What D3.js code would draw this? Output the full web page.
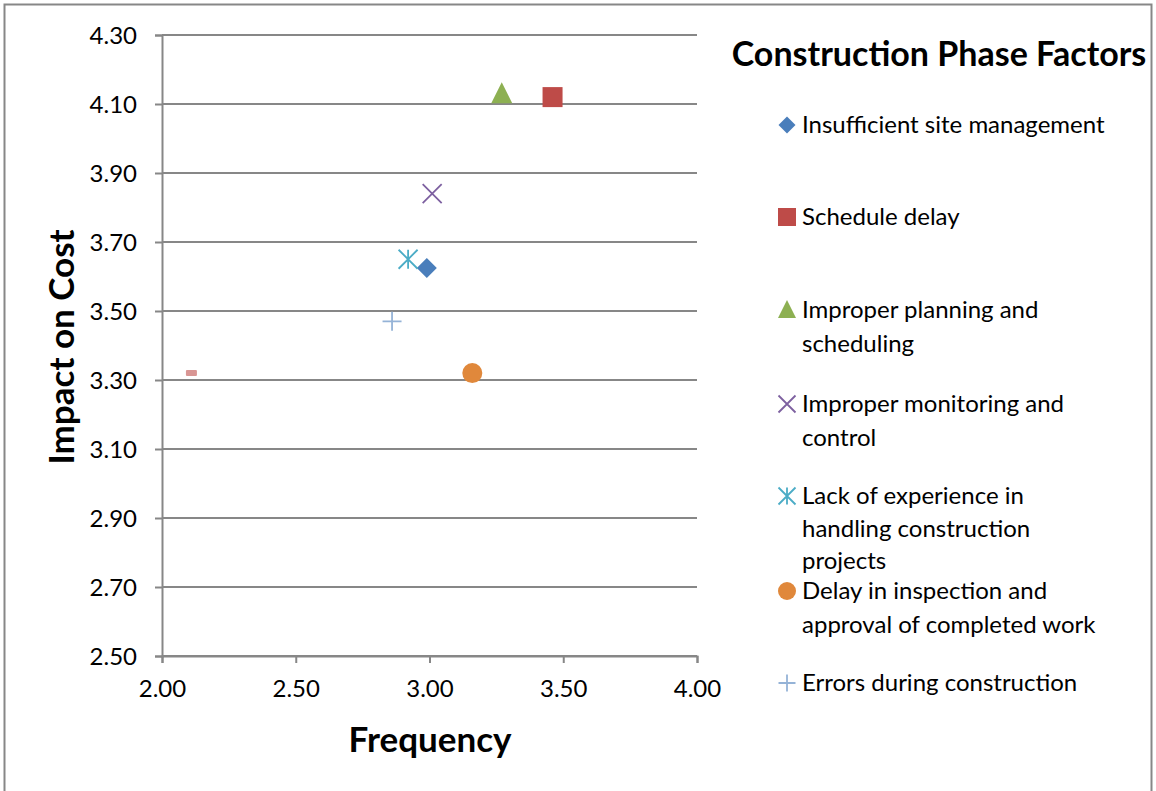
<!DOCTYPE html>
<html><head><meta charset="utf-8">
<script src="https://cdn.jsdelivr.net/npm/d3@7"></script>
<style>body{margin:0;background:#fff;}svg{display:block;}text{font-family:Lato,"Open Sans",sans-serif;}</style>
</head><body>
<svg id="c" width="1156" height="791"></svg>
<script>
const seriesNames = [
  ["Insufficient site management"],
  ["Schedule delay"],
  ["Improper planning and", "scheduling"],
  ["Improper monitoring and", "control"],
  ["Lack of experience in", "handling construction", "projects"],
  ["Delay in inspection and", "approval of completed work"],
  ["Errors during construction"],
  ["(unlabelled)"]
];
const frequency = [2.99, 3.46, 3.27, 3.01, 2.92, 3.16, 2.86, 2.11];
const impact    = [3.625, 4.12, 4.13, 3.84, 3.65, 3.32, 3.47, 3.32];
const markers   = ["diamond", "square", "triangle", "x", "star", "circle", "plus", "dash"];
const colors    = ["#4a7ebb", "#be4b48", "#8db052", "#7d60a0", "#4bacc6", "#e0883b", "#95b3d7", "#d99694"];
const xTicks = [2.00, 2.50, 3.00, 3.50, 4.00];
const yTicks = [2.50, 2.70, 2.90, 3.10, 3.30, 3.50, 3.70, 3.90, 4.10, 4.30];
const legendTitle = "Construction Phase Factors";
const xTitle = "Frequency", yTitle = "Impact on Cost";

const svg = d3.select("#c");
const x = d3.scaleLinear().domain([2.0, 4.0]).range([162, 697]);
const y = d3.scaleLinear().domain([2.5, 4.3]).range([656, 35]);
const grey = "#878787";

// outer frame
svg.append("rect").attr("x", 4.5).attr("y", 4.5).attr("width", 1147).attr("height", 800)
  .attr("fill", "none").attr("stroke", grey).attr("stroke-width", 2);

// gridlines
svg.append("g").selectAll("line").data(yTicks).join("line")
  .attr("x1", x(2)).attr("x2", x(4)).attr("y1", d => y(d)).attr("y2", d => y(d))
  .attr("stroke", grey).attr("stroke-width", 2);

// axes
const xAxis = d3.axisBottom(x).tickValues(xTicks).tickFormat(d3.format(".2f")).tickSize(7).tickPadding(17);
const gx = svg.append("g").attr("transform", `translate(0,${y(2.5)})`).call(xAxis);
const yAxis = d3.axisLeft(y).tickValues(yTicks).tickFormat(d3.format(".2f")).tickSize(7).tickPadding(18);
const gy = svg.append("g").attr("transform", `translate(${x(2)},0)`).call(yAxis);
[gx, gy].forEach(g => {
  g.select(".domain").attr("stroke", grey).attr("stroke-width", 2);
  g.selectAll(".tick line").attr("stroke", grey).attr("stroke-width", 2);
  g.selectAll(".tick text").attr("font-size", 24).attr("fill", "#000");
});
gy.selectAll(".tick text").attr("dy", "0.35em");

// axis titles
svg.append("text").attr("x", 430).attr("y", 752).attr("text-anchor", "middle")
  .attr("font-size", 35).attr("font-weight", "bold").text(xTitle);
svg.append("text").attr("transform", "translate(74,347) rotate(-90)").attr("text-anchor", "middle")
  .attr("font-size", 35).attr("font-weight", "bold").text(yTitle);

function drawMarker(g, type, color, s) {
  const h = s / 2;
  switch (type) {
    case "diamond":
      g.append("path").attr("d", `M0,${-h}L${h},0L0,${h}L${-h},0Z`).attr("fill", color); break;
    case "square":
      g.append("rect").attr("x", -h).attr("y", -h).attr("width", s).attr("height", s).attr("fill", color); break;
    case "triangle":
      g.append("path").attr("d", `M0,${-h - 1}L${h},${h - 1}L${-h},${h - 1}Z`).attr("fill", color); break;
    case "x":
      g.append("path").attr("d", `M${-h},${-h}L${h},${h}M${h},${-h}L${-h},${h}`)
        .attr("stroke", color).attr("stroke-width", 1.8).attr("fill", "none"); break;
    case "star":
      g.append("path").attr("d", `M${-h},${-h}L${h},${h}M${h},${-h}L${-h},${h}M0,${-h}L0,${h}`)
        .attr("stroke", color).attr("stroke-width", 1.8).attr("fill", "none"); break;
    case "circle":
      g.append("circle").attr("r", h).attr("fill", color); break;
    case "plus":
      g.append("path").attr("d", `M${-h},0L${h},0M0,${-h}L0,${h}`)
        .attr("stroke", color).attr("stroke-width", 1.8).attr("fill", "none"); break;
    case "dash":
      g.append("rect").attr("x", -5.5).attr("y", -3).attr("width", 11).attr("height", 6).attr("rx", 1).attr("fill", color); break;
  }
}

// points
const plotSizes = [20, 20, 21, 19, 19, 20, 19, 11];
frequency.forEach((f, i) => {
  const g = svg.append("g").attr("transform", `translate(${x(f)},${y(impact[i])})`);
  drawMarker(g, markers[i], colors[i], plotSizes[i]);
});

// legend
svg.append("text").attr("x", 939).attr("y", 66).attr("text-anchor", "middle")
  .attr("font-size", 34).attr("font-weight", "bold").text(legendTitle);
const legendY = [125, 217, 310, 404, 496, 591, 683];
const legendSizes = [17, 18, 18, 17, 17, 18, 17];
legendY.forEach((ly, i) => {
  const g = svg.append("g").attr("transform", `translate(787,${ly})`);
  drawMarker(g, markers[i], colors[i], legendSizes[i]);
  const t = svg.append("text").attr("x", 802).attr("y", ly).attr("font-size", 24).attr("fill", "#000");
  const step = seriesNames[i].length > 2 ? 32.5 : 34;
  seriesNames[i].forEach((line, k) => {
    t.append("tspan").attr("x", 802).attr("y", ly + k * step).attr("dy", "0.35em").text(line);
  });
});
</script>
</body></html>
